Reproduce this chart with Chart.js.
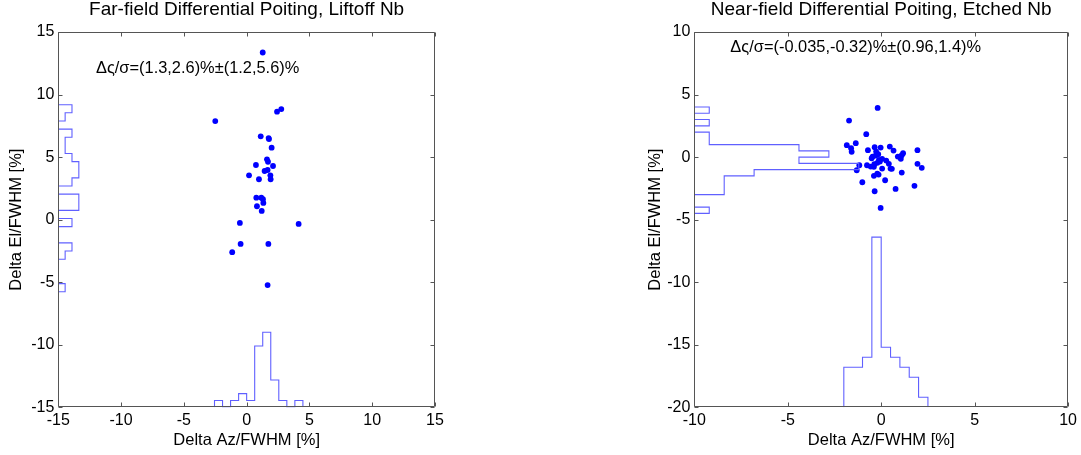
<!DOCTYPE html>
<html><head><meta charset="utf-8">
<script src="https://cdn.jsdelivr.net/npm/chart.js@4.4.1/dist/chart.umd.min.js"></script>
<style>
html,body{margin:0;padding:0;background:#fff;width:1081px;height:455px;overflow:hidden}
.box{position:absolute;top:0;height:455px}
#b1{left:0;width:540px}
#b2{left:540px;width:541px}
</style></head><body>
<div class="box" id="b1"><canvas id="c1"></canvas></div>
<div class="box" id="b2"><canvas id="c2"></canvas></div>
<script>
// ---------- data: left panel (Far-field, Liftoff Nb) ----------
const leftTitle = "Far-field Differential Poiting, Liftoff Nb";
const leftNote = "\u0394\u03c2/\u03c3=(1.3,2.6)%\u00b1(1.2,5.6)%";
const leftAz = [-2.50, 2.42, 2.76, 1.12, 1.75, 1.78, 1.99, 1.62, 1.70, 0.74, 2.10, 1.67, 1.43, 0.19, 1.89, 0.98, 1.91, 0.77, 1.17, 1.30, 1.33, 0.82, 1.20, -0.54, 4.14, -0.48, 1.73, -1.15, 1.67, 1.28];
const leftEl = [7.88, 8.63, 8.84, 6.66, 6.52, 6.44, 5.75, 4.82, 4.63, 4.37, 4.29, 3.97, 3.89, 3.54, 3.54, 3.23, 3.23, 1.76, 1.76, 1.63, 1.34, 1.07, 0.70, -0.26, -0.34, -1.94, -1.94, -2.60, -5.23, 13.36];
const leftAzHistStart = -2.56, leftAzHistWidth = 0.64;
const leftAzHistCounts = [1, 0, 1, 2, 1, 9, 11, 4, 1, 0, 1];
const leftElHistStart = -5.76, leftElHistWidth = 0.65;
const leftElHistCounts = [1, 0, 0, 0, 1, 2, 0, 0, 2, 0, 3, 3, 0, 2, 3, 3, 2, 1, 1, 2, 0, 1, 2];
const leftHistUnit = 0.545;
const leftXTicks = [-15, -10, -5, 0, 5, 10, 15];
const leftYTicks = [-15, -10, -5, 0, 5, 10, 15];

// ---------- data: right panel (Near-field, Etched Nb) ----------
const rightTitle = "Near-field Differential Poiting, Etched Nb";
const rightNote = "\u0394\u03c2/\u03c3=(-0.035,-0.32)%\u00b1(0.96,1.4)%";
const rightAz = [-0.19,-1.72,-0.80,-1.84,-1.36,-1.61,-1.58,-0.71,-0.35,-0.03,0.46,0.66,1.94,-0.27,-0.16,1.17,1.10,-0.46,-0.51,0.05,0.89,1.05,0.27,-0.07,-0.21,-0.37,-0.76,-0.56,-0.39,0.41,-1.17,1.94,0.05,0.50,0.57,2.17,-1.31,1.10,-0.21,-0.14,-0.39,0.21,-1.01,1.78,0.77,-0.35,-0.03,-0.30,-0.12];
const rightEl = [3.93,2.92,1.83,0.95,1.11,0.71,0.42,0.55,0.79,0.76,0.84,0.52,0.55,0.44,0.23,0.31,0.15,0.04,-0.09,-0.14,0.04,-0.14,-0.28,-0.36,-0.46,-0.57,-0.65,-0.76,-0.78,-0.54,-0.65,-0.54,-0.92,-0.92,-0.94,-0.86,-1.05,-1.24,-1.32,-1.40,-1.50,-1.85,-2.01,-2.30,-2.54,-2.73,-4.06,0.12,-0.22];
const rightAzHistStart = -2.0, rightAzHistWidth = 0.5;
const rightAzHistCounts = [4, 4, 5, 17, 6, 5, 4, 3, 1];
const rightElHistStart = -4.5, rightElHistWidth = 0.5;
const rightElHistCounts = [1, 0, 0, 2, 2, 2, 4, 11, 7, 9, 7, 1, 1, 0, 1, 0, 1];
const rightHistUnit = 0.8;
const rightXTicks = [-10, -5, 0, 5, 10];
const rightYTicks = [-20, -15, -10, -5, 0, 5, 10];

const xLabel = "Delta Az/FWHM [%]";
const yLabel = "Delta El/FWHM [%]";

// ---------- helpers ----------
const FONT = "'Liberation Sans', Arial, Helvetica, sans-serif";
const DOT = '#0000ff';
const HIST = 'rgb(96,96,255)';
const FRAME = '#555555';

function histVertical(start, width, counts, base, unit) {
  const pts = [{x: start, y: base}];
  counts.forEach((c, i) => {
    const a = start + i * width, b = a + width, h = base + c * unit;
    pts.push({x: a, y: h}, {x: b, y: h});
  });
  pts.push({x: start + counts.length * width, y: base});
  return pts;
}
function histHorizontal(start, width, counts, base, unit) {
  return histVertical(start, width, counts, base, unit).map(p => ({x: p.y, y: p.x}));
}

const framePlugin = {
  id: 'frame',
  afterDatasetsDraw(chart, args, o) {
    const {ctx, chartArea: a, scales: {x, y}} = chart;
    ctx.save();
    ctx.strokeStyle = FRAME; ctx.lineWidth = 1;
    const L = Math.round(a.left) + 0.5, R = Math.round(a.right) - 0.5;
    const T = Math.round(a.top) + 0.5, B = Math.round(a.bottom) - 0.5;
    ctx.beginPath();
    ctx.rect(L, T, R - L, B - T);
    const tl = 4;
    o.xticks.forEach(v => {
      const p = Math.round(x.getPixelForValue(v)) + 0.5;
      ctx.moveTo(p, B); ctx.lineTo(p, B - tl);
      ctx.moveTo(p, T); ctx.lineTo(p, T + tl);
    });
    o.yticks.forEach(v => {
      const p = Math.round(y.getPixelForValue(v)) + 0.5;
      ctx.moveTo(L, p); ctx.lineTo(L + tl, p);
      ctx.moveTo(R, p); ctx.lineTo(R - tl, p);
    });
    ctx.stroke();
    // annotation text
    ctx.fillStyle = '#000';
    ctx.font = '16.4px ' + FONT;
    ctx.textAlign = 'left'; ctx.textBaseline = 'middle';
    ctx.fillText(o.note, x.getPixelForValue(o.noteX), y.getPixelForValue(o.noteY));
    ctx.restore();
  }
};

function makeChart(id, cfg) {
  return new Chart(document.getElementById(id), {
    type: 'scatter',
    data: {
      datasets: [
        {data: cfg.hx, showLine: true, borderColor: HIST, borderWidth: 1.1, pointRadius: 0, tension: 0, fill: false},
        {data: cfg.hy, showLine: true, borderColor: HIST, borderWidth: 1.1, pointRadius: 0, tension: 0, fill: false},
        {data: cfg.az.map((v, i) => ({x: v, y: cfg.el[i]})), showLine: false, pointRadius: 2.9, pointBorderWidth: 0, backgroundColor: DOT, borderColor: DOT}
      ]
    },
    options: {
      responsive: true, maintainAspectRatio: false, animation: false,
      layout: {padding: cfg.padding},
      plugins: {
        legend: {display: false}, tooltip: {enabled: false},
        title: {display: true, text: cfg.title, fullSize: false, color: '#000',
          font: {family: FONT, size: 19, weight: 'normal', lineHeight: 1}, padding: {top: 0, bottom: 13}},
        frame: {xticks: cfg.xticks, yticks: cfg.yticks, note: cfg.note, noteX: cfg.noteX, noteY: cfg.noteY}
      },
      scales: {
        x: {type: 'linear', min: cfg.xticks[0], max: cfg.xticks[cfg.xticks.length - 1],
          afterBuildTicks: s => { s.ticks = cfg.xticks.map(v => ({value: v})); },
          afterFit: s => { s.height = 46.6; },
          grid: {display: false, drawTicks: false}, border: {display: false},
          ticks: {color: '#000', font: {family: FONT, size: 16}, padding: 4, maxRotation: 0, autoSkip: false},
          title: {display: true, text: xLabel, color: '#000', font: {family: FONT, size: 16.5}, padding: {top: 4, bottom: 4}}},
        y: {type: 'linear', min: cfg.yticks[0], max: cfg.yticks[cfg.yticks.length - 1],
          afterBuildTicks: s => { s.ticks = cfg.yticks.map(v => ({value: v})); },
          afterFit: s => { s.width = cfg.yw; },
          grid: {display: false, drawTicks: false}, border: {display: false},
          ticks: {color: '#000', font: {family: FONT, size: 16}, padding: 4, autoSkip: false},
          title: {display: true, text: yLabel, color: '#000', font: {family: FONT, size: 16.5}, padding: {top: 4, bottom: 4}}}
      }
    },
    plugins: [framePlugin]
  });
}

makeChart('c1', {
  title: leftTitle, note: leftNote, noteX: -12.0, noteY: 12.05,
  az: leftAz, el: leftEl, xticks: leftXTicks, yticks: leftYTicks,
  hx: histVertical(leftAzHistStart, leftAzHistWidth, leftAzHistCounts, leftYTicks[0], leftHistUnit),
  hy: histHorizontal(leftElHistStart, leftElHistWidth, leftElHistCounts, leftXTicks[0], leftHistUnit),
  padding: {left: 3, right: 105, top: 0, bottom: 1.1}, yw: 55.3
});
makeChart('c2', {
  title: rightTitle, note: rightNote, noteX: -8.07, noteY: 8.8,
  az: rightAz, el: rightEl, xticks: rightXTicks, yticks: rightYTicks,
  hx: histVertical(rightAzHistStart, rightAzHistWidth, rightAzHistCounts, rightYTicks[0], rightHistUnit),
  hy: histHorizontal(rightElHistStart, rightElHistWidth, rightElHistCounts, rightXTicks[0], rightHistUnit),
  padding: {left: 101.1, right: 11, top: 0, bottom: 1.1}, yw: 53.2
});
</script>
</body></html>
